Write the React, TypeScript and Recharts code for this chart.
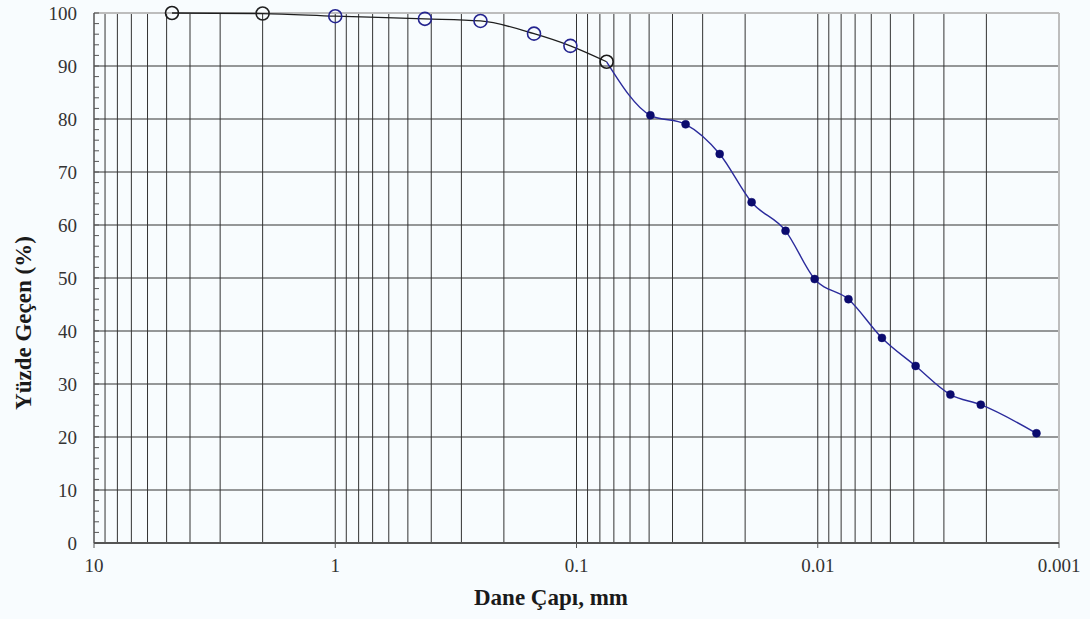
import React from 'react';
import { ComposedChart, Line, XAxis, YAxis, ReferenceLine } from 'recharts';

// Sieve analysis: grain diameter (mm) and percent passing
const sieveSize = [4.75, 2.0, 1.0, 0.425, 0.25, 0.15, 0.106, 0.075];
const sievePassing = [100, 99.9, 99.4, 98.9, 98.5, 96.1, 93.8, 90.8];

// Hydrometer analysis: equivalent diameter (mm) and percent passing
const hydroSize = [0.075, 0.0494, 0.0353, 0.0255, 0.0188, 0.0136, 0.0103, 0.00746, 0.00542, 0.00393, 0.00282, 0.00211, 0.00124];
const hydroPassing = [90.8, 80.7, 79.0, 73.4, 64.3, 58.9, 49.8, 46.0, 38.7, 33.4, 28.0, 26.1, 20.7];

// Axis ticks
const xTicks = [10, 1, 0.1, 0.01, 0.001];
const yTicks = [0, 2, 4, 6, 8, 10, 12, 14, 16, 18, 20, 22, 24, 26, 28, 30, 32, 34, 36, 38, 40, 42, 44, 46, 48, 50,
  52, 54, 56, 58, 60, 62, 64, 66, 68, 70, 72, 74, 76, 78, 80, 82, 84, 86, 88, 90, 92, 94, 96, 98, 100];
const yGrid = [10, 20, 30, 40, 50, 60, 70, 80, 90];

// Log-cycle grid: decades and their in-between multipliers
const decades = [1, 0.1, 0.01, 0.001];
const multipliers = [2, 3, 4, 5, 6, 7, 8, 9];
const xGrid: number[] = [1, 0.1, 0.01];
decades.forEach((d) => multipliers.forEach((m) => xGrid.push(+(d * m).toPrecision(3))));

// Circle outline colours for the sieve markers
const sieveMarkerColors = ['#1a1a1a', '#222222', '#24248f', '#24248f', '#24248f', '#24248f', '#24248f', '#1a1a1a'];

const sieveData = sieveSize.map((d, i) => ({ d, p: sievePassing[i] }));
const hydroData = hydroSize.map((d, i) => ({ d, p: hydroPassing[i] }));

const FONT = '"Liberation Serif", "Times New Roman", serif';
const GRID = '#333333';

const SieveDot = (props: any) => {
  const { cx, cy, index } = props;
  if (cx == null || cy == null) return <g key={`sd-${index}`} />;
  return (
    <circle key={`sd-${index}`} cx={cx} cy={cy} r={6.5} fill="none"
      stroke={sieveMarkerColors[index] || '#1a1a1a'} strokeWidth={1.6} />
  );
};

const HydroDot = (props: any) => {
  const { cx, cy, index } = props;
  if (cx == null || cy == null) return <g key={`hd-${index}`} />;
  if (index === 0) return <g key={`hd-${index}`} />;
  return <circle key={`hd-${index}`} cx={cx} cy={cy} r={4} fill="#0b0b6e" stroke="#0b0b6e" strokeWidth={0.5} />;
};

// Y-axis tick: label on the left, short mark pointing into the plot
const YTick = (props: any) => {
  const { x, y, payload, index } = props;
  const v = payload?.value as number;
  // x is the text anchor; the axis line sits 17px to its right
  const axisX = x + 17;
  return (
    <g key={`yt-${index}`}>
      <line x1={axisX} x2={axisX + 5} y1={y} y2={y} stroke="#555" strokeWidth={1} />
      {v % 10 === 0 ? (
        <text x={x} y={y} dy="0.355em" textAnchor="end" fill="#333" fontSize={19} fontFamily={FONT}>
          {String(v)}
        </text>
      ) : null}
    </g>
  );
};

export default function App() {
  return (
    <div style={{ position: 'absolute', left: 0, top: 0, width: 1090, height: 619, background: '#f8fcfe', fontFamily: FONT }}>
      <ComposedChart width={1090} height={619} margin={{ top: 13, right: 31, bottom: 46, left: 34 }}>
        <XAxis
          dataKey="d"
          type="number"
          scale="log"
          domain={[0.001, 10]}
          allowDataOverflow
          reversed
          ticks={xTicks}
          tickFormatter={(v: number) => String(v)}
          height={30}
          tickSize={5}
          tickMargin={11}
          axisLine={{ stroke: '#555', strokeWidth: 2 }}
          tickLine={{ stroke: '#555' }}
          tick={{ fill: '#333', fontSize: 19, fontFamily: FONT }}
        />
        <YAxis
          type="number"
          domain={[0, 100]}
          ticks={yTicks}
          interval={0}
          width={60}
          tickSize={0}
          tickMargin={17}
          tickLine={false}
          axisLine={{ stroke: '#555', strokeWidth: 1.5 }}
          tick={YTick}
        />
        {xGrid.map((v) => (
          <ReferenceLine key={`vx-${v}`} x={v} stroke={GRID} strokeWidth={1} />
        ))}
        {yGrid.map((v) => (
          <ReferenceLine key={`hy-${v}`} y={v} stroke={GRID} strokeWidth={1} />
        ))}
        <ReferenceLine y={100} stroke="#bdbdbd" strokeWidth={2} />
        <ReferenceLine x={0.001} stroke="#bdbdbd" strokeWidth={2} />
        <Line
          data={sieveData}
          dataKey="p"
          type="monotone"
          stroke="#1e1e1e"
          strokeWidth={1.3}
          dot={SieveDot}
          activeDot={false}
          isAnimationActive={false}
        />
        <Line
          data={hydroData}
          dataKey="p"
          type="monotone"
          stroke="#2b2b9c"
          strokeWidth={1.4}
          dot={HydroDot}
          activeDot={false}
          isAnimationActive={false}
        />
      </ComposedChart>
      <div style={{ position: 'absolute', left: 23, top: 323, transform: 'translate(-50%, -50%) rotate(-90deg)', whiteSpace: 'nowrap', fontSize: 23, lineHeight: 1, fontWeight: 'bold', color: '#1a1a1a' }}>
        Yüzde Geçen (%)
      </div>
      <div style={{ position: 'absolute', left: 551, top: 597, transform: 'translate(-50%, -50%)', whiteSpace: 'nowrap', fontSize: 23, lineHeight: 1, fontWeight: 'bold', color: '#1a1a1a' }}>
        Dane Çapı, mm
      </div>
    </div>
  );
}
